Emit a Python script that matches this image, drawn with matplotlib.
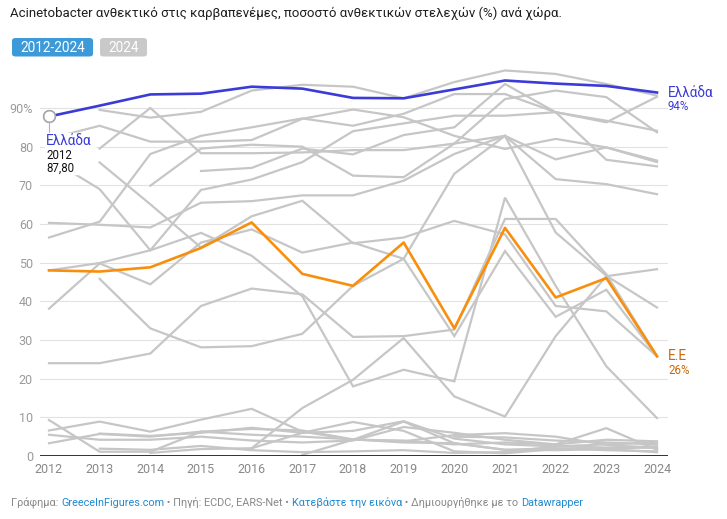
import numpy as np
import matplotlib
matplotlib.use("Agg")
import matplotlib.pyplot as plt
from matplotlib.patches import FancyBboxPatch

plt.rcParams['font.family'] = ['Roboto', 'DejaVu Sans']

years = list(range(2012, 2025))
greece = [87.8, 90.6, 93.5, 93.7, 95.5, 95.0, 92.6, 92.5, 94.8, 97.1, 96.3, 95.7, 94.0]
eu = [48.0, 47.7, 48.8, 53.8, 60.4, 47.1, 44.0, 55.2, 33.0, 59.0, 41.0, 46.0, 25.8]

nan = np.nan
# other countries (grey)
others = [
    [nan, 89.5, 87.5, 89.0, 94.5, 96.0, 95.5, 92.5, 96.7, 99.7, 98.8, 96.2, 93.2],
    [82.0, 85.4, 81.3, 81.3, 81.7, 87.2, 89.6, 87.6, 82.8, 79.4, 82.0, 79.8, 76.4],
    [nan, 79.5, 90.0, 78.3, 78.3, 78.5, 79.1, 79.1, 80.8, 92.3, 94.5, 92.8, 83.7],
    [56.5, 60.6, 78.1, 82.8, 85.0, 87.3, 85.4, 88.5, 93.6, 93.6, 88.9, 86.7, 84.1],
    [nan, nan, 69.9, 79.5, 80.5, 80.0, 72.5, 72.1, 80.8, 82.8, 76.7, 79.8, 76.0],
    [nan, nan, nan, 73.7, 74.5, 79.5, 78.0, 83.0, 85.0, 96.2, 88.9, 76.6, 74.9],
    [60.3, 59.8, 59.1, 65.5, 65.9, 67.4, 67.4, 71.2, 78.1, 82.8, 71.6, 70.3, 67.7],
    [77.0, 69.0, 53.2, 68.8, 71.5, 76.0, 84.0, 86.0, 88.0, 88.0, 88.9, 86.3, 92.9],
    [nan, 75.9, 65.1, 53.9, 62.0, 66.0, 55.0, 56.5, 60.8, 57.3, 38.8, 37.4, 25.8],
    [38.1, 49.8, 44.4, 55.2, 58.6, 52.6, 55.2, 51.0, 31.0, 53.0, 36.0, 43.0, 25.8],
    [48.0, 49.9, 53.2, 57.7, 51.8, 41.3, 18.0, 22.3, 19.3, 66.8, 44.0, 23.2, 9.8],
    [nan, 45.8, 33.0, 28.1, 28.4, 31.6, 44.0, 51.0, 73.0, 82.8, 57.8, 46.6, 38.4],
    [24.0, 24.0, 26.5, 38.8, 43.3, 41.8, 30.8, 31.0, 32.7, 61.3, 61.3, 47.0, 25.8],
    [nan, nan, nan, nan, 2.0, 12.4, 19.7, 30.5, 15.4, 10.2, 31.0, 46.5, 48.3],
    [9.3, 1.1, 1.1, 6.3, 5.5, 5.0, 4.3, 3.5, 3.3, 1.6, 2.0, 1.5, 1.2],
    [6.6, 8.9, 6.3, 9.4, 12.2, 6.3, 4.2, 8.9, 3.3, 1.6, 1.5, 1.8, 1.0],
    [3.3, 5.7, 5.0, 6.3, 7.0, 6.6, 4.3, 3.8, 5.4, 5.9, 5.0, 2.9, 2.0],
    [5.5, 4.2, 4.2, 5.0, 4.0, 3.5, 4.0, 7.5, 6.0, 4.2, 3.0, 7.2, 1.6],
    [nan, 1.9, 1.6, 2.6, 1.5, 1.0, 1.2, 1.5, 0.8, 1.0, 2.5, 3.0, 3.5],
    [nan, nan, nan, nan, nan, 0.3, 4.2, 4.0, 3.0, 3.5, 3.0, 4.2, 3.8],
    [nan, 5.8, 5.2, 6.0, 7.3, 6.0, 6.5, 9.0, 4.5, 3.0, 2.5, 2.2, 2.5],
    [nan, nan, nan, nan, nan, nan, nan, nan, 5.0, 4.8, 4.0, 3.5, 3.0],
    [nan, nan, 0.8, 1.8, 2.0, 6.0, 8.8, 6.5, 1.2, 0.7, 1.8, 2.0, 2.2],
]

yticks = [0, 10, 20, 30, 40, 50, 60, 70, 80, 90]
ytick_labels = ["0", "10", "20", "30", "40", "50", "60", "70", "80", "90%"]

title = "Acinetobacter ανθεκτικό στις καρβαπενέμες, ποσοστό ανθεκτικών στελεχών (%) ανά χώρα."
footer = [("Γράφημα: ", "#888888"), ("GreeceInFigures.com", "#1f8ad0"),
          (" • Πηγή: ECDC, EARS-Net • ", "#888888"), ("Κατεβάστε την εικόνα", "#1f8ad0"),
          (" • Δημιουργήθηκε με το ", "#888888"), ("Datawrapper", "#1f8ad0")]

W, H = 727, 519
fig = plt.figure(figsize=(W / 100, H / 100), dpi=100)

# axes placed in pixels
ax_l, ax_r, ax_b, ax_t = 40, 668, 456, 69.3
ax = fig.add_axes([ax_l / W, 1 - ax_b / H, (ax_r - ax_l) / W, (ax_b - ax_t) / H])
px_per_year = (657 - 49) / 12
ax.set_xlim(2012 - 9 / px_per_year, 2024 + 11 / px_per_year)
ax.set_ylim(0, 100)

for s in ax.spines.values():
    s.set_visible(False)
for v in yticks[1:]:
    ax.axhline(v, color="#e2e2e2", lw=0.8, zorder=1)
ax.axhline(0, color="#222222", lw=1.3, zorder=6)

ax.set_yticks(yticks)
ax.set_yticklabels(ytick_labels)
ax.set_xticks(years)
ax.set_xticklabels([str(y) for y in years])
ax.tick_params(axis="y", length=0, pad=5, labelsize=9, labelcolor="#9a9a9a")
ax.tick_params(axis="x", length=0, pad=5, labelsize=9, labelcolor="#888888")

for row in others:
    ax.plot(years, row, color="#c6c6c6", lw=1.6, zorder=2, solid_joinstyle="miter")
ax.plot(years, eu, color="#f88f0c", lw=1.9, zorder=4)
ax.plot(years, greece, color="#3b3bd8", lw=1.9, zorder=5)

# start marker for Greece
ax.plot([2012], [greece[0]], marker="o", ms=8.5, mfc="white", mec="#a8a8a8", mew=1.0,
        zorder=6, clip_on=False)
ax.plot([2012], [greece[0]], marker="o", ms=8.5, mfc="none", mec="#a8a8a8", mew=1.0,
        zorder=7, clip_on=False)
fig.lines.append(plt.Line2D([49 / W, 49 / W], [1 - 121.5 / H, 1 - 132 / H],
                            color="#b0b0b0", lw=0.8, transform=fig.transFigure))
# label box for Greece start (white background)
fig.patches.append(plt.Rectangle((45 / W, 1 - 174 / H), 50 / W, 41 / H, color="white",
                                 transform=fig.transFigure, zorder=3))
fig.text(46 / W, 1 - 140.5 / H, "Ελλάδα", color="#3b3bd8", fontsize=9.8, va="center")
fig.text(46 / W, 1 - 155.5 / H, "2012", color="#111111", fontsize=8.3, va="center")
fig.text(46 / W, 1 - 168 / H, "87,80", color="#111111", fontsize=8.3, va="center")

# end labels
fig.text(668 / W, 1 - 93 / H, "Ελλάδα", color="#3b3bd8", fontsize=9.8, va="center")
fig.text(668 / W, 1 - 107 / H, "94%", color="#3b3bd8", fontsize=8.3, va="center")
fig.text(668 / W, 1 - 356 / H, "Ε.Ε", color="#c8680a", fontsize=9.8, va="center")
fig.text(668 / W, 1 - 371 / H, "26%", color="#c8680a", fontsize=8.3, va="center")

# title
fig.text(10 / W, 1 - 13.5 / H, title, color="#1e1e1e", fontsize=9.5, va="center")

# buttons
for (x0, x1, label, col) in [(12, 93, "2012-2024", "#3d9ad9"), (100, 147, "2024", "#c9c9c9")]:
    fig.patches.append(FancyBboxPatch((x0 / W, 1 - 56.5 / H), (x1 - x0) / W, 18.5 / H,
                                      boxstyle="round,pad=0,rounding_size=0.005",
                                      fc=col, ec="none", transform=fig.transFigure))
    fig.text((x0 + x1) / 2 / W, 1 - 47.5 / H, label, color="white", fontsize=9.8,
             ha="center", va="center")

# footer with mixed colours
renderer = fig.canvas.get_renderer()
xpos = 11
for txt, col in footer:
    t = fig.text(xpos / W, 1 - 503 / H, txt, color=col, fontsize=7.8, va="center")
    xpos += t.get_window_extent(renderer=renderer).width

fig.savefig("out.png", dpi=100)
